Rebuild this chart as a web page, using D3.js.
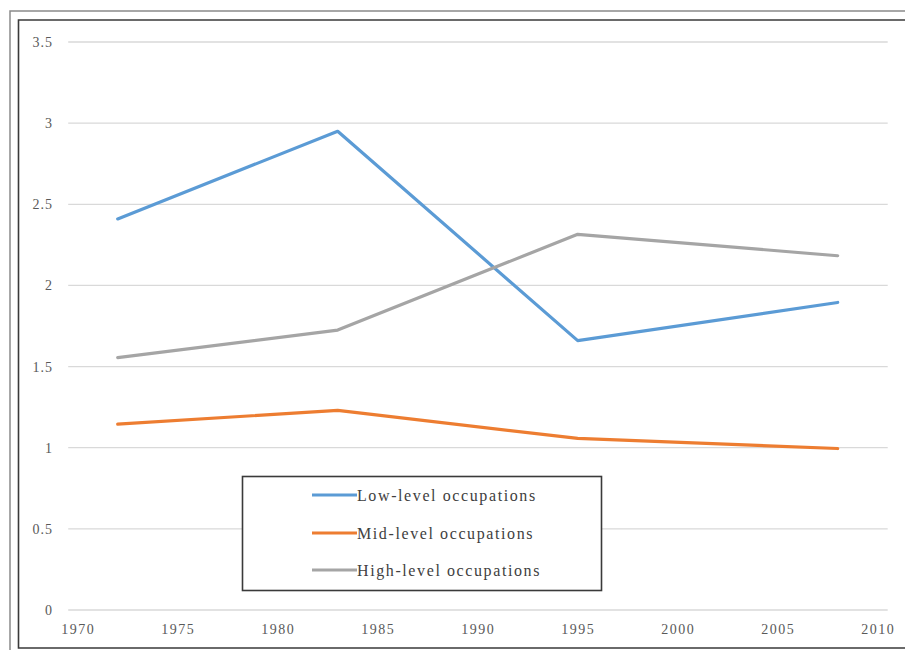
<!DOCTYPE html>
<html>
<head>
<meta charset="utf-8">
<script src="https://cdn.jsdelivr.net/npm/d3@7"></script>
<style>
  html, body { margin: 0; padding: 0; background: #fff; }
  svg { display: block; }
</style>
</head>
<body>
<svg id="chart" width="905" height="650"></svg>
<script>
// Survey years and ratios per occupation level
const years = [1972, 1983, 1995, 2008];
const lowLevel = [2.41, 2.95, 1.66, 1.895];
const midLevel = [1.145, 1.23, 1.057, 0.995];
const highLevel = [1.555, 1.725, 2.315, 2.183];

const seriesNames = ["Low-level occupations", "Mid-level occupations", "High-level occupations"];
const seriesColors = ["#5B9BD5", "#ED7D31", "#A5A5A5"];
const yTicks = [0, 0.5, 1, 1.5, 2, 2.5, 3, 3.5];
const xTicks = [1970, 1975, 1980, 1985, 1990, 1995, 2000, 2005, 2010];

const series = [lowLevel, midLevel, highLevel].map((vals, i) => ({
  name: seriesNames[i],
  color: seriesColors[i],
  points: years.map((yr, j) => ({ year: yr, value: vals[j] }))
}));

const svg = d3.select("#chart");

// Outer frames
svg.append("path")
  .attr("d", "M10,650 L10,11 L905,11")
  .attr("fill", "none").attr("stroke", "#8a8a8a").attr("stroke-width", 1.5);
svg.append("path")
  .attr("d", "M905,20 L18.5,20 L18.5,648 L905,648")
  .attr("fill", "none").attr("stroke", "#3a3a3a").attr("stroke-width", 1.6);

const x = d3.scaleLinear().domain([1970, 2010]).range([77.7, 877.7]);
const y = d3.scaleLinear().domain([0, 3.5]).range([610, 42]);

// Horizontal gridlines
svg.append("g")
  .selectAll("line")
  .data(yTicks)
  .join("line")
  .attr("x1", x(1970) - 9.5)
  .attr("x2", x(2010) + 10)
  .attr("y1", d => y(d))
  .attr("y2", d => y(d))
  .attr("stroke", "#d9d9d9")
  .attr("stroke-width", 1.3);

// Y axis labels
const yAxis = d3.axisLeft(y).tickValues(yTicks).tickSize(0).tickPadding(0)
  .tickFormat(d3.format("~g"));
const gy = svg.append("g").attr("transform", "translate(53,0)").call(yAxis);
gy.select(".domain").remove();
gy.selectAll("text")
  .attr("fill", "#595959")
  .style("font-family", "'Liberation Serif', 'Times New Roman', serif")
  .style("font-size", "14px")
  .style("letter-spacing", "1px");

// X axis labels
const xAxis = d3.axisBottom(x).tickValues(xTicks).tickSize(0).tickPadding(0)
  .tickFormat(d3.format("d"));
const gx = svg.append("g").attr("transform", "translate(0,624)").call(xAxis);
gx.select(".domain").remove();
gx.selectAll("text")
  .attr("fill", "#595959")
  .attr("dy", "0.71em")
  .style("font-family", "'Liberation Serif', 'Times New Roman', serif")
  .style("font-size", "14px")
  .style("letter-spacing", "1.5px");

// Series lines
const line = d3.line().x(d => x(d.year)).y(d => y(d.value));
svg.append("g")
  .selectAll("path")
  .data(series)
  .join("path")
  .attr("d", d => line(d.points))
  .attr("fill", "none")
  .attr("stroke", d => d.color)
  .attr("stroke-width", 3.2)
  .attr("stroke-linejoin", "round")
  .attr("stroke-linecap", "round");

// Legend
const legend = svg.append("g");
legend.append("rect")
  .attr("x", 242.5).attr("y", 476.5).attr("width", 359).attr("height", 114)
  .attr("fill", "#fff").attr("stroke", "#3a3a3a").attr("stroke-width", 1.6);
const rows = legend.selectAll("g.row")
  .data(series)
  .join("g")
  .attr("class", "row")
  .attr("transform", (d, i) => `translate(0,${[495, 533, 570][i]})`);
rows.append("line")
  .attr("x1", 312).attr("x2", 357)
  .attr("stroke", d => d.color).attr("stroke-width", 3.2);
rows.append("text")
  .attr("x", 357).attr("dy", "0.35em")
  .attr("fill", "#404040")
  .style("font-family", "'Liberation Serif', 'Times New Roman', serif")
  .style("font-size", "16px")
  .style("letter-spacing", "1.6px")
  .text(d => d.name);
</script>
</body>
</html>
